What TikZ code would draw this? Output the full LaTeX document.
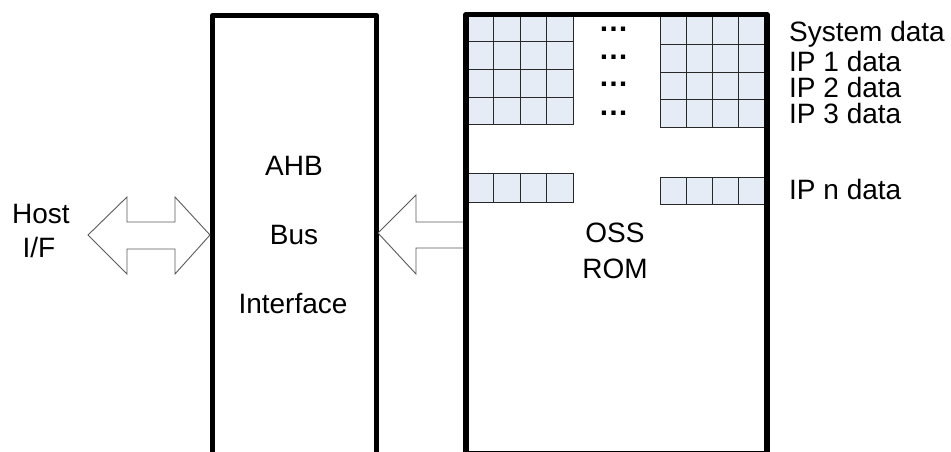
\documentclass[tikz,border=0pt]{standalone}
\usepackage{fontspec}
\setmainfont{Liberation Sans}
\definecolor{cellfill}{RGB}{230,236,246}
\definecolor{cellline}{RGB}{40,40,40}
\definecolor{arrline}{RGB}{90,90,90}
\tikzset{
  thickbox/.style={line width=5.5pt, line join=round, line cap=round},
  cell/.style={draw=cellline, fill=cellfill, line width=0.9pt},
  blockarrow/.style={draw=arrline, fill=white, line width=0.9pt, line join=miter},
  lbl/.style={inner sep=0pt, anchor=base, font=\fontsize{28}{30}\selectfont},
  rlbl/.style={inner sep=0pt, anchor=base west, text height=20pt, text depth=2pt, font=\fontsize{28}{30}\selectfont},
  dotsnode/.style={inner sep=0pt, anchor=base, text height=4pt, text depth=0pt, font=\bfseries\fontsize{30}{32}\selectfont}
}
\begin{document}
\begin{tikzpicture}[x=1pt,y=-1pt]
\useasboundingbox (0,0) rectangle (951,452);
\begin{scope}
\clip (0,0) rectangle (951,452);
% cells left grid
\foreach \r/\ya/\yb in {0/15/41,1/41/69,2/69/97,3/97/124}{
  \foreach \xa/\xb in {466/493,493/520,520/546,546/573}{
    \draw[cell] (\xa,\ya) rectangle (\xb,\yb);
  }
}
% cells right grid
\foreach \r/\ya/\yb in {0/16/44,1/44/72,2/72/99,3/99/127}{
  \foreach \xa/\xb in {660/686,686/712,712/738,738/767}{
    \draw[cell] (\xa,\ya) rectangle (\xb,\yb);
  }
}
% IP n rows
\foreach \xa/\xb in {466/493,493/520,520/546,546/573}{
  \draw[cell] (\xa,173) rectangle (\xb,202);
}
\foreach \xa/\xb in {660/686,686/712,712/738,738/767}{
  \draw[cell] (\xa,177) rectangle (\xb,204);
}
% boxes (open below the picture)
\draw[thickbox] (212.5,470) -- (212.5,15.5) -- (376.5,15.5) -- (376.5,470);
\draw[thickbox] (466,454) -- (466,14.5) -- (767,14.5) -- (767,454) -- cycle;
% block arrows
\draw[blockarrow] (88,235) -- (127,197) -- (127,222) -- (175,222) -- (175,197)
  -- (210,235) -- (175,274) -- (175,249) -- (127,249) -- (127,274) -- cycle;
\draw[blockarrow] (378,233) -- (416,195) -- (416,222) -- (463,222)
  (463,248) -- (416,248) -- (416,274) -- (378,233);
\end{scope}
% dots
\node[dotsnode] (d1) at (613.5,32) {…};
\node[dotsnode] (d2) at (613.5,60) {…};
\node[dotsnode] (d3) at (613.5,87) {…};
\node[dotsnode] (d4) at (613.5,115) {…};
% texts
\node[lbl] (ahb) at (294,175) {AHB};
\node[lbl] (bus) at (294,244) {Bus};
\node[lbl] (intf) at (293,313) {Interface};
\node[lbl] (oss) at (615,242) {OSS};
\node[lbl] (rom) at (615,278) {ROM};
\node[lbl] (host) at (41,223) {Host};
\node[lbl] (hif) at (39,257) {I/F};
\node[rlbl] (sys) at (789,42) {System data};
\node[rlbl] (ip1) at (789,72) {IP 1 data};
\node[rlbl] (ip2) at (789,97) {IP 2 data};
\node[rlbl] (ip3) at (789,123) {IP 3 data};
\node[rlbl] (ipn) at (789,199) {IP n data};
\end{tikzpicture}
\end{document}
